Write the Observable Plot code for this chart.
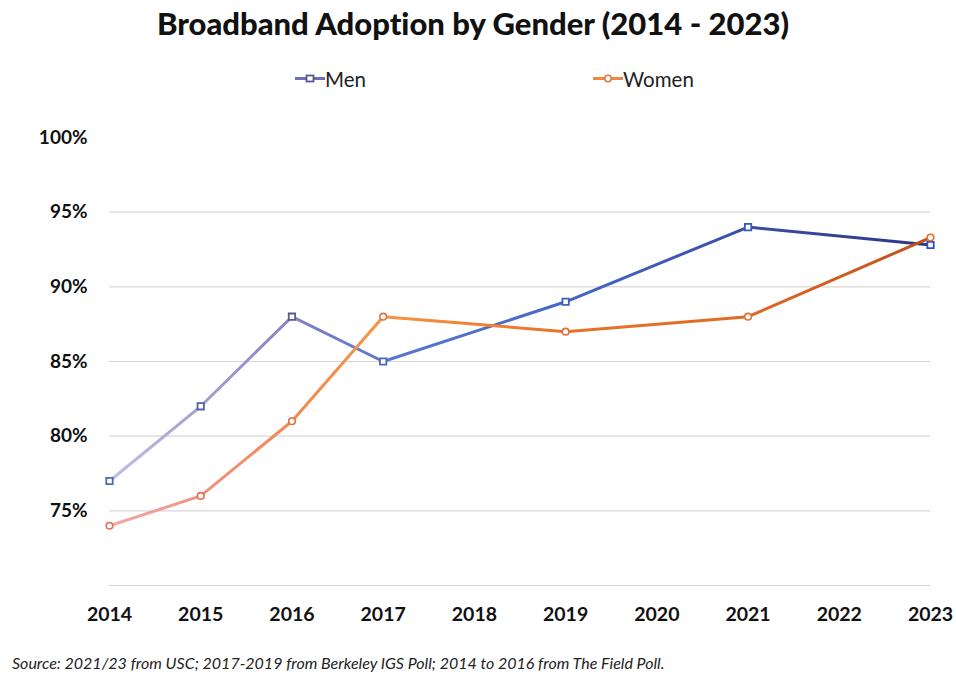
<!DOCTYPE html>
<html>
<head>
<meta charset="utf-8">
<script src="https://cdn.jsdelivr.net/npm/d3@7"></script>
<script src="https://cdn.jsdelivr.net/npm/@observablehq/plot@0.6"></script>
<style>
  body { margin: 0; background: #fff; width: 956px; height: 682px; position: relative; overflow: hidden; font-family: Lato, "Open Sans", sans-serif; font-variant-ligatures: none; }
  #title { position: absolute; top: 4px; left: 0; width: 946px; text-align: center; font-weight: 900; font-size: 31px; color: #111; }
  #legend { position: absolute; top: 66px; left: 0; width: 956px; height: 26px; font-size: 20.5px; color: #222; }
  .li { position: absolute; display: flex; align-items: center; gap: 0px; }
  #chart { position: absolute; top: 110px; left: 0; }
  #caption { position: absolute; top: 653px; left: 12px; font-style: italic; font-size: 16px; color: #222; }
  svg text { font-variant-ligatures: none; }
</style>
</head>
<body>
<div id="title">Broadband Adoption by Gender (2014 - 2023)</div>
<div id="legend"></div>
<div id="chart"></div>
<div id="caption">Source: 2021/23 from USC; 2017-2019 from Berkeley IGS Poll; 2014 to 2016 from The Field Poll.</div>
<script>
// ---- data ----
const years = [2014, 2015, 2016, 2017, 2019, 2021, 2023];
const men   = [77, 82, 88, 85, 89, 94, 92.8];
const women = [74, 76, 81, 88, 87, 88, 93.3];
const xTicks = [2014, 2015, 2016, 2017, 2018, 2019, 2020, 2021, 2022, 2023];
const yLabelTicks = [75, 80, 85, 90, 95, 100];
const yGridTicks = [70, 75, 80, 85, 90, 95];
const seriesNames = ["Men", "Women"];

// ---- styles ----
const menStops = [[2014, "#c4bde2"], [2016, "#8682c2"], [2017, "#5a78cc"], [2019, "#4466c8"], [2021, "#3a4ea6"], [2023, "#2b3784"]];
const womenStops = [[2014, "#f4aaa8"], [2015, "#f2907e"], [2016, "#f28a52"], [2017, "#f59442"], [2019, "#e8722a"], [2021, "#e06a24"], [2023, "#bf4f1c"]];
const menDotStops = [[2014, "#4a6cb8"], [2016, "#5a5a90"], [2017, "#4a68c0"], [2023, "#2b4fc0"]];
const womenDotStops = [[2014, "#e86a5a"], [2016, "#e07040"], [2023, "#e07030"]];
function colorAt(stops, yr) {
  for (let i = 0; i < stops.length - 1; i++) {
    const [a, ca] = stops[i], [b, cb] = stops[i + 1];
    if (yr >= a && yr <= b) return d3.interpolateRgb(ca, cb)((yr - a) / (b - a));
  }
  return stops[stops.length - 1][1];
}

const rows = [];
years.forEach((y, i) => {
  rows.push({series: "Men", year: y, value: men[i]});
  rows.push({series: "Women", year: y, value: women[i]});
});

function gradDefs() {
  const ns = "http://www.w3.org/2000/svg";
  const defs = document.createElementNS(ns, "defs");
  [["gMen", menStops], ["gWomen", womenStops]].forEach(([id, stops]) => {
    const g = document.createElementNS(ns, "linearGradient");
    g.setAttribute("id", id);
    g.setAttribute("x1", "0"); g.setAttribute("x2", "1");
    g.setAttribute("y1", "0"); g.setAttribute("y2", "0");
    stops.forEach(([yr, c]) => {
      const s = document.createElementNS(ns, "stop");
      s.setAttribute("offset", ((yr - 2014) / 9).toFixed(4));
      s.setAttribute("stop-color", c);
      g.appendChild(s);
    });
    defs.appendChild(g);
  });
  return defs;
}

const plot = Plot.plot({
  width: 956,
  height: 530,
  marginLeft: 109,
  marginRight: 26,
  marginTop: 27,
  marginBottom: 55,
  style: {fontFamily: "Lato, 'Open Sans', sans-serif", background: "transparent"},
  x: {type: "linear", domain: [2014, 2023], axis: null},
  y: {domain: [70, 100], axis: null},
  marks: [
    gradDefs,
    Plot.ruleY(yGridTicks, {x1: 2014, x2: 2023, stroke: "#d6d6d6", strokeWidth: 1.2}),
    Plot.text(yLabelTicks, {x: 2014, y: d => d, text: d => d + "%", textAnchor: "end", dx: -22, fontSize: 19, fontWeight: "bold", fill: "#111"}),
    Plot.text(xTicks, {x: d => d, y: 70, text: d => String(d), dy: 29, fontSize: 19.5, fontWeight: "bold", fill: "#111"}),
    Plot.line(rows.filter(d => d.series === "Men"), {x: "year", y: "value", stroke: "url(#gMen)", strokeWidth: 3}),
    Plot.line(rows.filter(d => d.series === "Women"), {x: "year", y: "value", stroke: "url(#gWomen)", strokeWidth: 3}),
    Plot.dot(rows.filter(d => d.series === "Men"), {x: "year", y: "value", symbol: "square", r: 3.6, fill: "white", stroke: d => colorAt(menDotStops, d.year), strokeWidth: 1.8}),
    Plot.dot(rows.filter(d => d.series === "Women"), {x: "year", y: "value", symbol: "circle", r: 3.3, fill: "white", stroke: d => colorAt(womenDotStops, d.year), strokeWidth: 1.6})
  ]
});
document.getElementById("chart").appendChild(plot);

// legend
const legend = document.getElementById("legend");
const legendPos = [295, 593];
const legendCol = [["#6f6fb8", "#55558f", "square"], ["#ee8a40", "#e07a40", "circle"]];
seriesNames.forEach((name, i) => {
  const el = document.createElement("div");
  el.className = "li";
  el.style.left = legendPos[i] + "px";
  const [c, mc, sym] = legendCol[i];
  const shape = sym === "square"
    ? `<rect x="11.5" y="9.5" width="7" height="6" fill="white" stroke="${mc}" stroke-width="1.8"/>`
    : `<circle cx="15" cy="12.5" r="3.2" fill="white" stroke="${mc}" stroke-width="1.6"/>`;
  el.innerHTML = `<svg width="30" height="25"><line x1="0" x2="30" y1="12.5" y2="12.5" stroke="${c}" stroke-width="3"/>${shape}</svg><span>${name}</span>`;
  legend.appendChild(el);
});
</script>
</body>
</html>
